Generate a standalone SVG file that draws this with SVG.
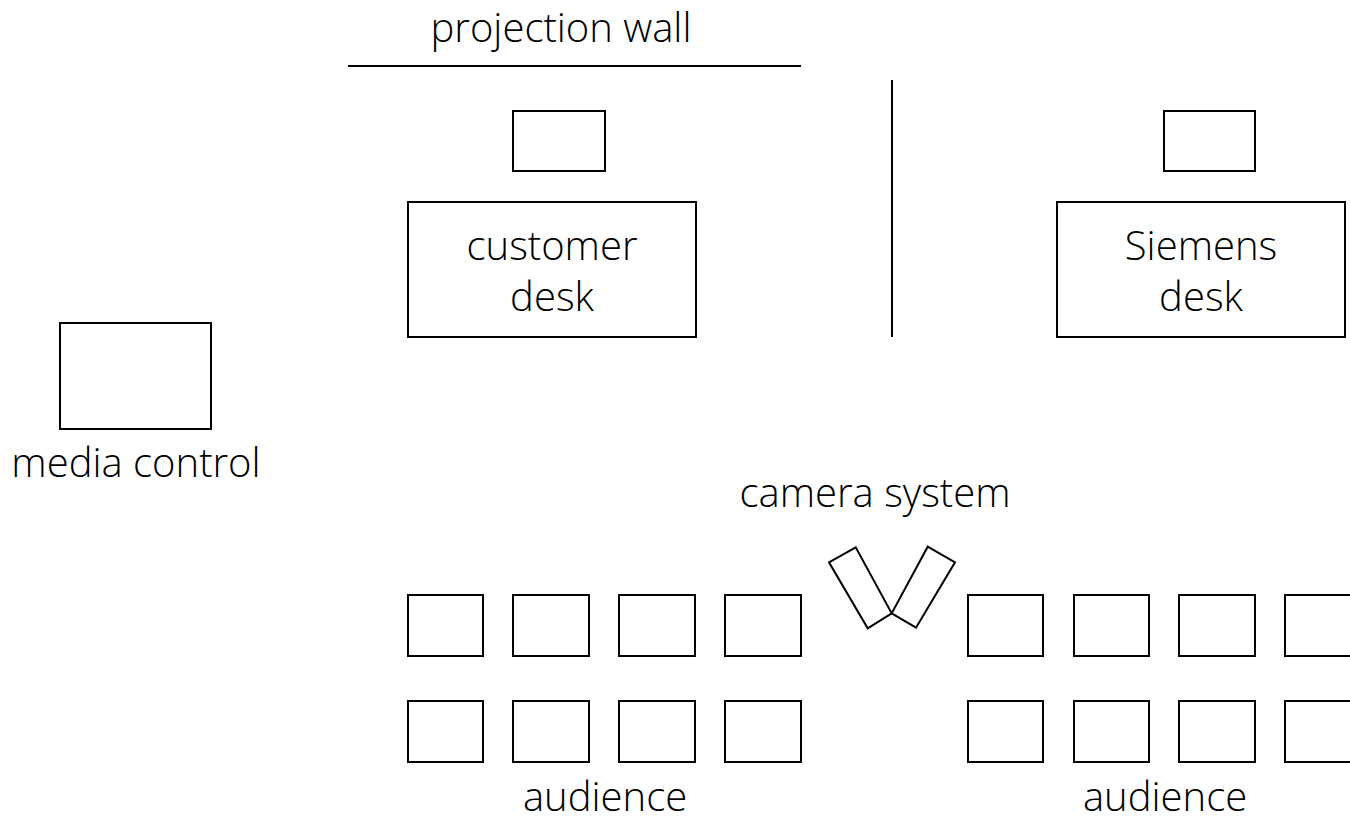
<svg xmlns="http://www.w3.org/2000/svg" width="1350" height="817" viewBox="0 0 1350 817">
  <style>
    .box { fill: #ffffff; stroke: #000000; stroke-width: 2; }
    .wall { stroke: #000000; stroke-width: 2; fill: none; }
    .lbl { font-family: "Open Sans", "Liberation Sans", sans-serif; font-size: 40px; font-weight: 300; fill: #000000; text-anchor: middle; }
  </style>
  <rect x="0" y="0" width="1350" height="817" fill="#ffffff"/>

  <!-- walls -->
  <g id="walls">
    <line class="wall" x1="348" y1="66" x2="801" y2="66"/>
    <line class="wall" x1="892" y1="80" x2="892" y2="337"/>
  </g>
  <text id="projection-wall" class="lbl" x="561" y="42">projection wall</text>

  <!-- customer side -->
  <g id="customer-screen"><rect class="box" x="513" y="111" width="92" height="60"/></g>
  <g id="customer-desk">
    <rect class="box" x="408" y="202" width="288" height="135"/>
    <text class="lbl" x="552" y="260">customer</text>
    <text class="lbl" x="552" y="311">desk</text>
  </g>

  <!-- Siemens side -->
  <g id="siemens-screen"><rect class="box" x="1164" y="111" width="91" height="60"/></g>
  <g id="siemens-desk">
    <rect class="box" x="1057" y="202" width="288" height="135"/>
    <text class="lbl" x="1201" y="260">Siemens</text>
    <text class="lbl" x="1201" y="311">desk</text>
  </g>

  <!-- media control -->
  <g id="media-control">
    <rect class="box" x="60" y="323" width="151" height="106"/>
    <text class="lbl" x="136" y="477">media control</text>
  </g>

  <!-- camera system -->
  <g id="camera-system">
    <text class="lbl" x="875" y="507">camera system</text>
    <polygon class="box" points="829,562.3 855.7,547.3 891.7,613.3 867.7,628.3"/>
    <polygon class="box" points="927.7,546.7 955,562.3 916,627.7 891.7,613.3"/>
  </g>

  <!-- audience, left block -->
  <g id="audience-left">
    <rect class="box" x="408" y="595" width="75" height="61"/>
    <rect class="box" x="513" y="595" width="76" height="61"/>
    <rect class="box" x="619" y="595" width="76" height="61"/>
    <rect class="box" x="725" y="595" width="76" height="61"/>
    <rect class="box" x="408" y="701" width="75" height="61"/>
    <rect class="box" x="513" y="701" width="76" height="61"/>
    <rect class="box" x="619" y="701" width="76" height="61"/>
    <rect class="box" x="725" y="701" width="76" height="61"/>
    <text class="lbl" x="605" y="811">audience</text>
  </g>

  <!-- audience, right block -->
  <g id="audience-right">
    <rect class="box" x="968" y="595" width="75" height="61"/>
    <rect class="box" x="1074" y="595" width="75" height="61"/>
    <rect class="box" x="1179" y="595" width="76" height="61"/>
    <rect class="box" x="1285" y="595" width="76" height="61"/>
    <rect class="box" x="968" y="701" width="75" height="61"/>
    <rect class="box" x="1074" y="701" width="75" height="61"/>
    <rect class="box" x="1179" y="701" width="76" height="61"/>
    <rect class="box" x="1285" y="701" width="76" height="61"/>
    <text class="lbl" x="1165" y="811">audience</text>
  </g>
</svg>
